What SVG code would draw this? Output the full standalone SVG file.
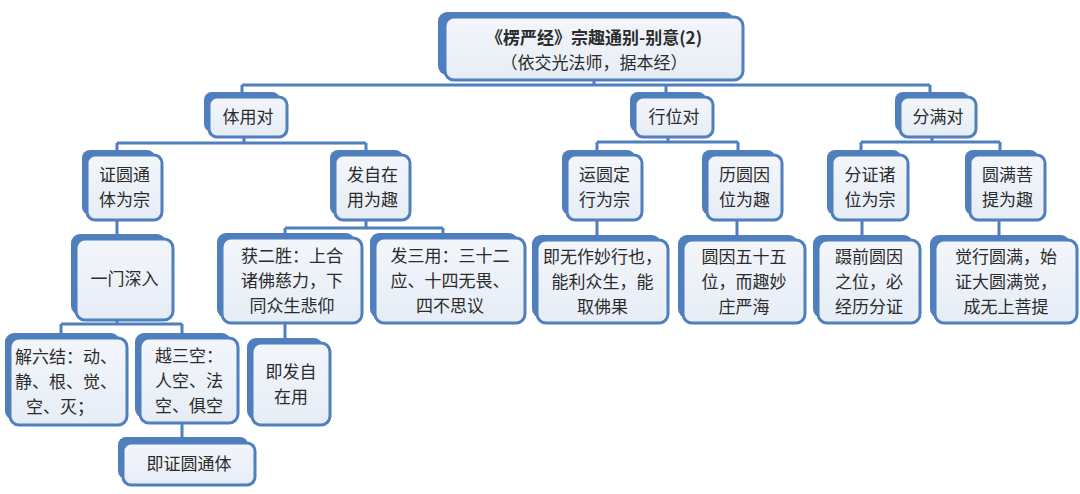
<svg xmlns="http://www.w3.org/2000/svg" width="1080" height="494" viewBox="0 0 1080 494">
<defs>
<linearGradient id="g" x1="0" y1="0" x2="0" y2="1">
<stop offset="0" stop-color="#f3f6fb"/>
<stop offset="1" stop-color="#e6edf6"/>
</linearGradient>
<style>
.bk{fill:#4f7fbd;}
.fr{fill:url(#g);stroke:#4f7fbd;stroke-width:3;}
.t{font-family:"Noto Sans CJK SC","Noto Sans",sans-serif;font-size:17px;fill:#2b2b2b;text-anchor:middle;}
.b{font-weight:bold;}
.c{fill:none;stroke:#4f7fbd;stroke-width:3;}
</style>
</defs>
<rect width="1080" height="494" fill="#ffffff"/>
<g id="connectors">
<path class="c" d="M594,80V85M242,85H930M242,85V92M666,85V92M930,85V92"/>
<path class="c" d="M244,137V143M117,143H366M117,143V150M366,143V150"/>
<path class="c" d="M668,137V142M597,142H738M597,142V150M738,142V150"/>
<path class="c" d="M932,137V142M861,142H1000M861,142V150M1000,142V150"/>
<path class="c" d="M117,220V234"/>
<path class="c" d="M366,220V228M285,228H443M285,228V233M443,228V233"/>
<path class="c" d="M597,220V235M737,220V235M862,220V235M999,220V235"/>
<path class="c" d="M117,320V324M61,324H182M61,324V333M182,324V333"/>
<path class="c" d="M182,423V437"/>
<path class="c" d="M285,323V338"/>
</g>
<g id="n-title">
<rect class="bk" x="438" y="12" width="296" height="63" rx="9"/>
<rect class="fr" x="445" y="17" width="298" height="63" rx="9"/>
<text class="t"><tspan class="b" x="594" y="44">《楞严经》宗趣通别-别意(2)</tspan><tspan x="594" y="69">（依交光法师，据本经）</tspan></text>
</g>
<g id="n-tiyong">
<rect class="bk" x="204" y="92" width="76" height="40" rx="8"/>
<rect class="fr" x="209" y="97" width="78" height="40" rx="8"/>
<text class="t" x="248" y="123">体用对</text>
</g>
<g id="n-xingwei">
<rect class="bk" x="630" y="92" width="76" height="40" rx="8"/>
<rect class="fr" x="635" y="97" width="78" height="40" rx="8"/>
<text class="t" x="674" y="123">行位对</text>
</g>
<g id="n-fenman">
<rect class="bk" x="895" y="92" width="74" height="40" rx="8"/>
<rect class="fr" x="900" y="97" width="76" height="40" rx="8"/>
<text class="t" x="938" y="123">分满对</text>
</g>
<g id="n-zhengyuan">
<rect class="bk" x="82" y="150" width="73" height="65" rx="8"/>
<rect class="fr" x="87" y="155" width="75" height="65" rx="8"/>
<text class="t"><tspan x="124.5" y="181">证圆通</tspan><tspan x="124.5" y="206">体为宗</tspan></text>
</g>
<g id="n-fazizai">
<rect class="bk" x="330" y="150" width="73" height="65" rx="8"/>
<rect class="fr" x="335" y="155" width="75" height="65" rx="8"/>
<text class="t"><tspan x="372.5" y="181">发自在</tspan><tspan x="372.5" y="206">用为趣</tspan></text>
</g>
<g id="n-yunyuan">
<rect class="bk" x="562" y="150" width="73" height="65" rx="8"/>
<rect class="fr" x="567" y="155" width="75" height="65" rx="8"/>
<text class="t"><tspan x="604.5" y="181">运圆定</tspan><tspan x="604.5" y="206">行为宗</tspan></text>
</g>
<g id="n-liyuan">
<rect class="bk" x="702" y="150" width="73" height="65" rx="8"/>
<rect class="fr" x="707" y="155" width="75" height="65" rx="8"/>
<text class="t"><tspan x="744.5" y="181">历圆因</tspan><tspan x="744.5" y="206">位为趣</tspan></text>
</g>
<g id="n-fenzheng">
<rect class="bk" x="827" y="150" width="74" height="65" rx="8"/>
<rect class="fr" x="832" y="155" width="76" height="65" rx="8"/>
<text class="t"><tspan x="870" y="181">分证诸</tspan><tspan x="870" y="206">位为宗</tspan></text>
</g>
<g id="n-yuanman">
<rect class="bk" x="965" y="150" width="73" height="65" rx="8"/>
<rect class="fr" x="970" y="155" width="75" height="65" rx="8"/>
<text class="t"><tspan x="1007.5" y="181">圆满菩</tspan><tspan x="1007.5" y="206">提为趣</tspan></text>
</g>
<g id="n-yimen">
<rect class="bk" x="71" y="234" width="95" height="81" rx="9"/>
<rect class="fr" x="76" y="239" width="97" height="81" rx="9"/>
<text class="t" x="124.5" y="285">一门深入</text>
</g>
<g id="n-huoer">
<rect class="bk" x="217" y="233" width="138" height="85" rx="9"/>
<rect class="fr" x="222" y="238" width="140" height="85" rx="9"/>
<text class="t"><tspan x="292" y="261.5">获二胜：上合</tspan><tspan x="292" y="286.5">诸佛慈力，下</tspan><tspan x="292" y="311.5">同众生悲仰</tspan></text>
</g>
<g id="n-fasan">
<rect class="bk" x="370" y="233" width="148" height="85" rx="9"/>
<rect class="fr" x="375" y="238" width="150" height="85" rx="9"/>
<text class="t"><tspan x="450" y="261.5">发三用：三十二</tspan><tspan x="450" y="286.5">应、十四无畏、</tspan><tspan x="450" y="311.5">四不思议</tspan></text>
</g>
<g id="n-jiwuzuo">
<rect class="bk" x="532" y="235" width="129" height="83" rx="9"/>
<rect class="fr" x="537" y="240" width="131" height="83" rx="9"/>
<text class="t"><tspan x="602.5" y="262.5">即无作妙行也，</tspan><tspan x="602.5" y="287.5">能利众生，能</tspan><tspan x="602.5" y="312.5">取佛果</tspan></text>
</g>
<g id="n-yuanyin">
<rect class="bk" x="678" y="235" width="120" height="83" rx="9"/>
<rect class="fr" x="683" y="240" width="122" height="83" rx="9"/>
<text class="t"><tspan x="744" y="262.5">圆因五十五</tspan><tspan x="744" y="287.5">位，而趣妙</tspan><tspan x="744" y="312.5">庄严海</tspan></text>
</g>
<g id="n-nieqian">
<rect class="bk" x="813" y="235" width="100" height="83" rx="9"/>
<rect class="fr" x="818" y="240" width="102" height="83" rx="9"/>
<text class="t"><tspan x="869" y="262.5">蹑前圆因</tspan><tspan x="869" y="287.5">之位，必</tspan><tspan x="869" y="312.5">经历分证</tspan></text>
</g>
<g id="n-juexing">
<rect class="bk" x="930" y="235" width="140" height="83" rx="9"/>
<rect class="fr" x="935" y="240" width="142" height="83" rx="9"/>
<text class="t"><tspan x="1006" y="262.5">觉行圆满，始</tspan><tspan x="1006" y="287.5">证大圆满觉，</tspan><tspan x="1006" y="312.5">成无上菩提</tspan></text>
</g>
<g id="n-jieliu">
<rect class="bk" x="5" y="333" width="115" height="87" rx="9"/>
<rect class="fr" x="10" y="338" width="117" height="87" rx="9"/>
<text class="t"><tspan x="66" y="362.5">解六结：动、</tspan><tspan x="66" y="387.5">静、根、觉、</tspan><tspan x="60" y="412.5">空、灭；</tspan></text>
</g>
<g id="n-yuesan">
<rect class="bk" x="135" y="333" width="96" height="85" rx="9"/>
<rect class="fr" x="140" y="338" width="98" height="85" rx="9"/>
<text class="t"><tspan x="189" y="361.5">越三空：</tspan><tspan x="189" y="386.5">人空、法</tspan><tspan x="189" y="411.5">空、俱空</tspan></text>
</g>
<g id="n-jifa">
<rect class="bk" x="247" y="338" width="76" height="82" rx="9"/>
<rect class="fr" x="252" y="343" width="78" height="82" rx="9"/>
<text class="t"><tspan x="291" y="377.5">即发自</tspan><tspan x="291" y="402.5">在用</tspan></text>
</g>
<g id="n-jizheng">
<rect class="bk" x="118" y="437" width="130" height="42" rx="8"/>
<rect class="fr" x="123" y="443" width="132" height="42" rx="8"/>
<text class="t" x="189" y="470">即证圆通体</text>
</g>
</svg>
